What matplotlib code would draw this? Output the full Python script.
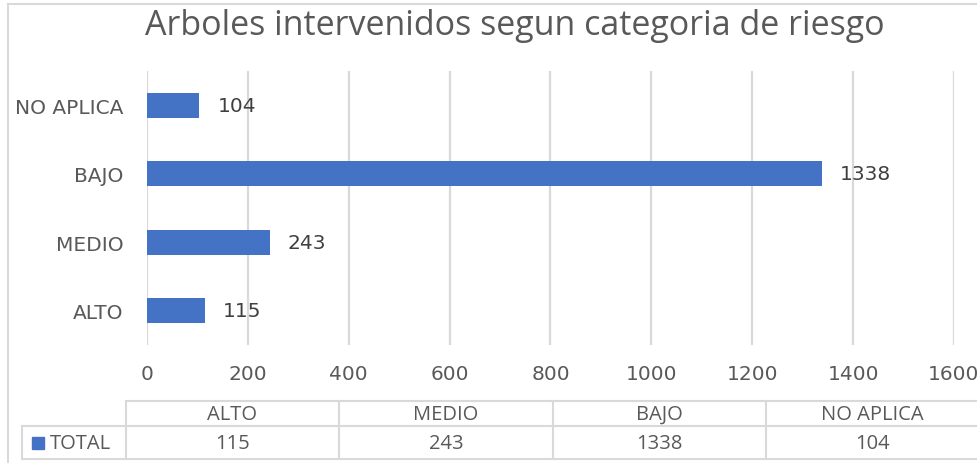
import matplotlib
matplotlib.use("Agg")
import matplotlib.pyplot as plt
from matplotlib.lines import Line2D
from matplotlib.transforms import Affine2D

categories = ["ALTO", "MEDIO", "BAJO", "NO APLICA"]
values = [115, 243, 1338, 104]
xticks = [0, 200, 400, 600, 800, 1000, 1200, 1400, 1600]
title = "Arboles intervenidos segun categoria de riesgo"
series_name = "TOTAL"

W, H = 978, 464
DPI = 100
BLUE = "#4472C4"
GRID = "#d9d9d9"
TXT = "#595959"

fig = plt.figure(figsize=(W / DPI, H / DPI), dpi=DPI)
fig.patch.set_facecolor("white")

# pixel transform (origin top-left)
px = Affine2D().scale(1 / W, -1 / H).translate(0, 1) + fig.transFigure

# outer frame (left/top visible)
fig.add_artist(Line2D([8, 8], [5, H], transform=px, color=GRID, lw=1.5))
fig.add_artist(Line2D([8, W], [5, 5], transform=px, color=GRID, lw=1.5))

left, right, top, bottom = 147, 954, 72, 346
ax = fig.add_axes([left / W, 1 - bottom / H, (right - left) / W, (bottom - top) / H])
ypos = list(range(len(categories)))
ax.barh(ypos, values, height=0.37, color=BLUE, zorder=3)
ax.set_xlim(xticks[0], xticks[-1])
ax.set_ylim(-0.5, len(categories) - 0.5)
ax.set_xticks(xticks)
ax.set_xticklabels([str(t) for t in xticks])
ax.set_yticks(ypos)
ax.set_yticklabels(categories)
for s in ax.spines.values():
    s.set_visible(False)
ax.grid(axis="x", color=GRID, lw=1.6, zorder=0)
ax.tick_params(axis="both", length=0, colors=TXT, labelsize=14.5)
ax.tick_params(axis="x", pad=14)
ax.tick_params(axis="y", pad=17)
for lab in ax.get_xticklabels() + ax.get_yticklabels():
    lab.set_family("DejaVu Sans")
for y, v in zip(ypos, values):
    ax.annotate(str(v), (v, y), xytext=(13, 0), textcoords="offset points",
                va="center", ha="left", fontsize=14.5, color="#404040",
                family="DejaVu Sans")

fig.text(515 / W, 1 - 35 / H, title, ha="center", va="baseline",
         fontsize=24.5, color=TXT, family="Open Sans")

# data table
cols = [126, 339, 553, 766, 979]
ytop, ymid, ybot = 402, 427, 460
lk = dict(transform=px, color=GRID, lw=1.5)
fig.add_artist(Line2D([cols[0], W], [ytop, ytop], **lk))
fig.add_artist(Line2D([22, W], [ymid, ymid], **lk))
fig.add_artist(Line2D([22, W], [ybot, ybot], **lk))
fig.add_artist(Line2D([22, 22], [ymid, ybot], **lk))
for c in cols[:-1]:
    fig.add_artist(Line2D([c, c], [ytop, ybot], **lk))
for i, (cat, v) in enumerate(zip(categories, values)):
    cx = (cols[i] + cols[i + 1]) / 2
    fig.text(cx / W, 1 - 415 / H, cat, ha="center", va="center",
             fontsize=14.5, color=TXT, family="Open Sans")
    fig.text(cx / W, 1 - 444 / H, str(v), ha="center", va="center",
             fontsize=14.5, color=TXT, family="Open Sans")
fig.add_artist(plt.Rectangle((32, 438), 12, 12, transform=px, color=BLUE))
fig.text(50 / W, 1 - 444 / H, series_name, ha="left", va="center",
         fontsize=14.5, color=TXT, family="Open Sans")

fig.savefig("out.png", dpi=DPI, facecolor="white")
